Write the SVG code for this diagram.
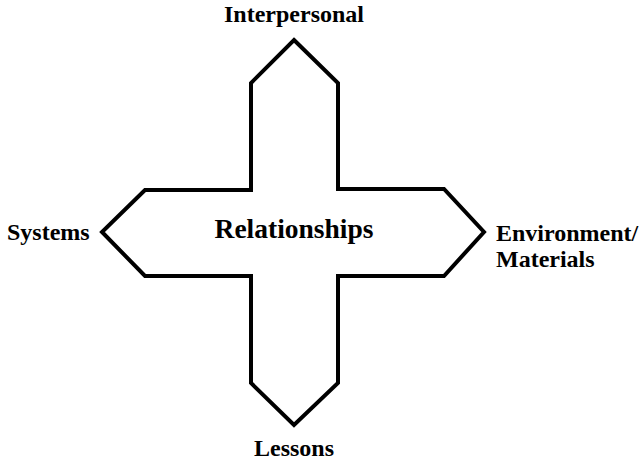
<svg xmlns="http://www.w3.org/2000/svg" width="641" height="464" viewBox="0 0 641 464">
<style>
.lbl{font-family:"Liberation Serif","Times New Roman",serif;font-weight:bold;font-size:24px;fill:#000}
.main{font-size:27.5px}
.shape{fill:#fff;stroke:#000;stroke-width:4;stroke-linejoin:miter}
</style>
<rect width="641" height="464" fill="#fff"/>
<g id="cross">
<path class="shape" d="M294,40 L338,83 L338,189 L444,189 L484,232 L444,276 L338,276 L338,383 L294,425 L251,383 L251,276 L145,276 L102,232 L145,190 L251,190 L251,83 Z"/>
<text class="lbl main" x="294" y="238" text-anchor="middle">Relationships</text>
</g>
<g id="interpersonal"><text class="lbl" x="294" y="22" text-anchor="middle">Interpersonal</text></g>
<g id="systems"><text class="lbl" x="7" y="240">Systems</text></g>
<g id="environment"><text class="lbl" x="496" y="241">Environment/</text><text class="lbl" x="496" y="267">Materials</text></g>
<g id="lessons"><text class="lbl" x="294" y="456" text-anchor="middle">Lessons</text></g>
<g id="connectors"></g>
</svg>
